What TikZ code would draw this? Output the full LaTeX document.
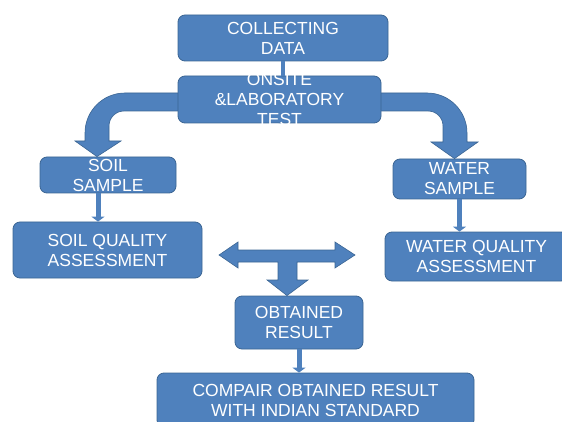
\documentclass[tikz,border=0pt]{standalone}
\usepackage{fontspec}
\setmainfont{Liberation Sans}
\usepackage{tikz}
\usetikzlibrary{arrows.meta, calc, backgrounds}
\definecolor{stepblue}{HTML}{4F81BD}
\definecolor{stepedge}{HTML}{3B6593}
\tikzset{
  stage/.style={draw=stepedge, line width=0.8pt, rounded corners=7pt, fill=stepblue, text=white, align=center, font=\fontsize{17.5}{20}\selectfont, inner sep=0pt},
  bigarrow/.style={draw=stepedge, line width=0.6pt, fill=stepblue},
  link/.style={-{Triangle[length=5pt, width=13pt]}, line width=5pt, draw=stepblue},
  bar/.style={line width=4pt, draw=stepblue},
}
\begin{document}
\begin{tikzpicture}[x=1pt, y=-1pt]
  \clip (0,0) rectangle (562,422);
  % stages of the work
  \node[stage, minimum width=210pt, minimum height=46pt] (collect) at (283,38) {COLLECTING\\DATA};
  \node[stage, minimum width=203pt, minimum height=47pt] (onsite) at (279.5,99.5) {\raisebox{-6pt}[0pt][0pt]{\begin{tabular}{@{}c@{}}ONSITE\\\&LABORATORY\\TEST\end{tabular}}};
  \node[stage, minimum width=136pt, minimum height=36pt] (soilsmp) at (108,175) {SOIL\\SAMPLE};
  \node[stage, minimum width=133pt, minimum height=40pt] (watersmp) at (459.5,179) {WATER\\SAMPLE};
  \node[stage, minimum width=189pt, minimum height=56pt] (soilqa) at (107.5,250) {SOIL QUALITY\\ASSESSMENT};
  \node[stage, minimum width=183pt, minimum height=49pt] (waterqa) at (476.5,256.5) {WATER QUALITY\\ASSESSMENT};
  \node[stage, minimum width=128pt, minimum height=53pt] (result) at (299,322.5) {OBTAINED\\RESULT};
  \node[stage, minimum width=317pt, minimum height=54pt] (compare) at (315.5,400) {COMPAIR OBTAINED RESULT\\WITH INDIAN STANDARD};

  % bent block arrows out of the test box
  \begin{scope}[on background layer]
    \draw[bigarrow] ([xshift=3pt,yshift=6.5pt]onsite.west) -- (125,93)
      arc[start angle=270, end angle=180, radius=40] -- (85,141) -- (75,141)
      -- ($(soilsmp.north)+(-11,0)$) -- (121,141) -- (109,141) -- (109,126)
      arc[start angle=180, end angle=270, radius=15]
      -- ([xshift=3pt,yshift=-11.5pt]onsite.west) -- cycle;
    \draw[bigarrow] ([xshift=-3pt,yshift=6.5pt]onsite.east) -- (427,93)
      arc[start angle=270, end angle=360, radius=40] -- (467,142) -- (478,142)
      -- ($(watersmp.north)+(-5,0)$) -- (431,142) -- (443,142) -- (443,126)
      arc[start angle=0, end angle=-90, radius=15]
      -- ([xshift=-3pt,yshift=-11.5pt]onsite.east) -- cycle;
  \end{scope}

  % T arrow between the assessments
  \draw[bigarrow] (219,255) -- (238,242) -- (238,250) -- (335,250) -- (335,242)
    -- (355,255) -- (335,268) -- (335,262) -- (297,262) -- (297,280) -- (308,280)
    -- ($(result.north)+(-12,0)$) -- (267,280) -- (278,280) -- (278,262)
    -- (238,262) -- (238,268) -- cycle;

  % small links
  \draw[bar] (collect.south) -- (collect.south |- onsite.north);
  \draw[link] ($(soilsmp.south)+(-10,0)$) -- ($(soilsmp.south |- soilqa.north)+(-10,0)$);
  \draw[link] (watersmp.south) -- (watersmp.south |- waterqa.north);
  \draw[link] (result.south) -- (result.south |- compare.north);
\end{tikzpicture}
\end{document}
